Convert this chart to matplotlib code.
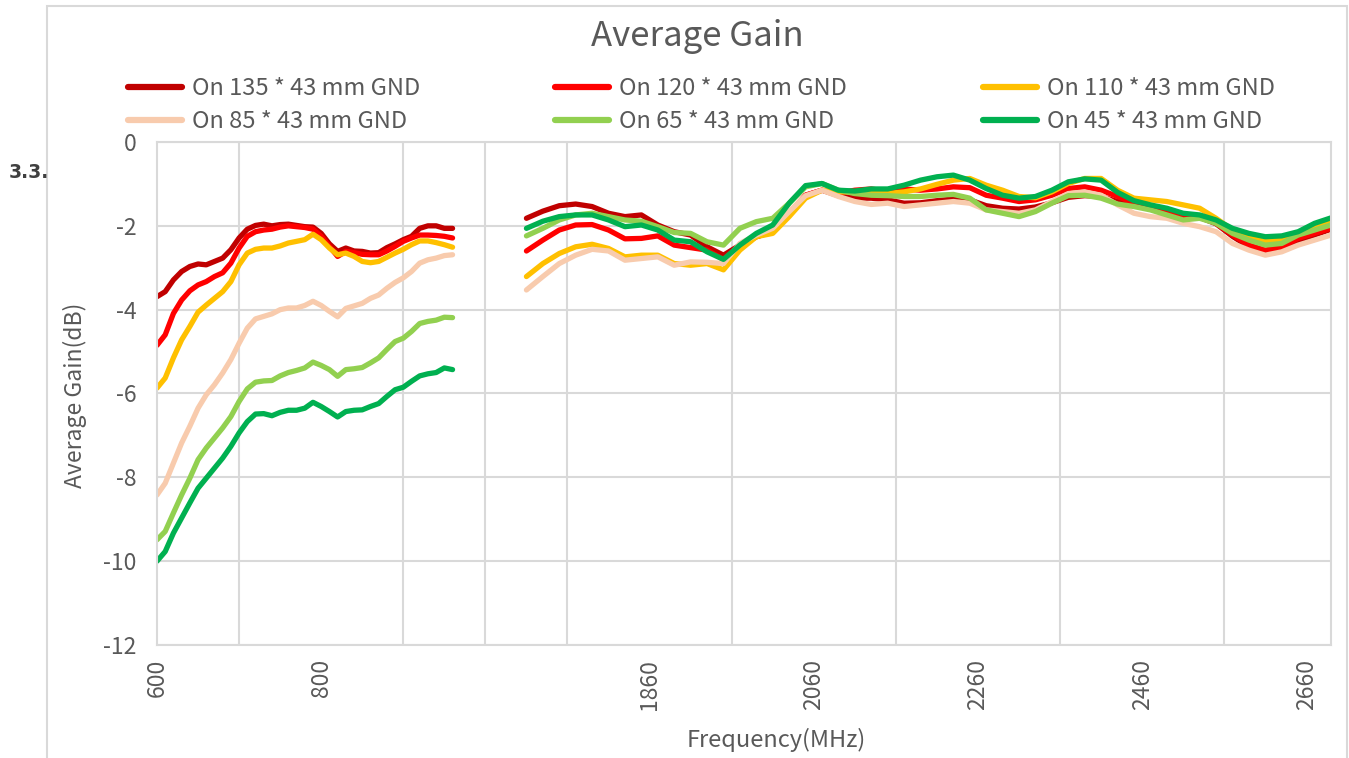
import numpy as np
import matplotlib
matplotlib.use("Agg")
import matplotlib.pyplot as plt
from matplotlib.patches import Rectangle

plt.rcParams['font.family'] = ['Noto Sans CJK SC', 'DejaVu Sans']

# ---------------- data ----------------
freq_low = np.arange(600, 961, 10)      # 600..960 MHz, step 10
freq_high = np.arange(1710, 2691, 20)   # 1710..2690 MHz, step 20

series_names = ["On 135 * 43 mm GND", "On 120 * 43 mm GND", "On 110 * 43 mm GND",
                "On 85 * 43 mm GND", "On 65 * 43 mm GND", "On 45 * 43 mm GND"]
series_colors = ["#C00000", "#FF0000", "#FFC000", "#F8CBAD", "#92D050", "#00B050"]

low_135 = [-3.69, -3.57, -3.29, -3.09, -2.97, -2.91, -2.93, -2.85, -2.77, -2.57,
           -2.29, -2.08, -1.99, -1.96, -2.00, -1.97, -1.96, -1.99, -2.02, -2.03,
           -2.18, -2.43, -2.61, -2.53, -2.60, -2.61, -2.65, -2.64, -2.52, -2.43,
           -2.33, -2.25, -2.06, -2.00, -2.00, -2.06, -2.06]
low_120 = [-4.85, -4.60, -4.09, -3.77, -3.55, -3.41, -3.33, -3.21, -3.12, -2.89,
           -2.53, -2.25, -2.14, -2.10, -2.08, -2.03, -2.00, -2.02, -2.04, -2.08,
           -2.25, -2.49, -2.73, -2.61, -2.64, -2.68, -2.69, -2.69, -2.60, -2.49,
           -2.37, -2.29, -2.22, -2.22, -2.23, -2.25, -2.29]
low_110 = [-5.87, -5.63, -5.15, -4.72, -4.40, -4.06, -3.89, -3.73, -3.57, -3.33,
           -2.93, -2.65, -2.56, -2.53, -2.53, -2.48, -2.41, -2.37, -2.33, -2.20,
           -2.33, -2.53, -2.69, -2.65, -2.73, -2.85, -2.88, -2.85, -2.75, -2.65,
           -2.56, -2.45, -2.36, -2.36, -2.40, -2.45, -2.51]
low_85 = [-8.42, -8.14, -7.66, -7.18, -6.78, -6.35, -6.03, -5.79, -5.51, -5.19,
          -4.80, -4.44, -4.22, -4.16, -4.10, -4.00, -3.96, -3.96, -3.90, -3.80,
          -3.90, -4.04, -4.17, -3.97, -3.91, -3.85, -3.73, -3.65, -3.49, -3.35,
          -3.24, -3.09, -2.89, -2.81, -2.77, -2.71, -2.69]
low_65 = [-9.49, -9.29, -8.85, -8.42, -8.02, -7.58, -7.30, -7.06, -6.82, -6.55,
          -6.19, -5.89, -5.73, -5.70, -5.69, -5.58, -5.50, -5.45, -5.39, -5.25,
          -5.33, -5.43, -5.59, -5.43, -5.41, -5.38, -5.27, -5.15, -4.95, -4.76,
          -4.68, -4.52, -4.33, -4.28, -4.25, -4.18, -4.19]
low_45 = [-10.00, -9.77, -9.33, -8.97, -8.61, -8.26, -8.02, -7.78, -7.54, -7.26,
          -6.94, -6.67, -6.49, -6.48, -6.53, -6.45, -6.40, -6.40, -6.35, -6.21,
          -6.31, -6.43, -6.56, -6.43, -6.40, -6.39, -6.31, -6.24, -6.07, -5.91,
          -5.85, -5.71, -5.58, -5.53, -5.50, -5.39, -5.43]

high_135 = [-1.82, -1.65, -1.52, -1.48, -1.54, -1.70, -1.78, -1.74, -1.98, -2.14,
            -2.22, -2.50, -2.70, -2.46, -2.26, -2.14, -1.74, -1.27, -1.15, -1.28,
            -1.34, -1.34, -1.38, -1.46, -1.45, -1.40, -1.36, -1.38, -1.52, -1.58,
            -1.60, -1.55, -1.45, -1.32, -1.28, -1.30, -1.42, -1.50, -1.60, -1.65,
            -1.76, -1.80, -1.95, -2.25, -2.50, -2.62, -2.55, -2.35, -2.22, -2.08]
high_120 = [-2.60, -2.34, -2.10, -1.98, -1.97, -2.10, -2.31, -2.30, -2.24, -2.46,
            -2.52, -2.58, -2.80, -2.46, -2.26, -2.14, -1.70, -1.27, -1.15, -1.22,
            -1.15, -1.12, -1.18, -1.12, -1.15, -1.12, -1.07, -1.09, -1.27, -1.34,
            -1.42, -1.38, -1.27, -1.11, -1.07, -1.15, -1.30, -1.46, -1.58, -1.62,
            -1.74, -1.78, -1.94, -2.22, -2.46, -2.58, -2.50, -2.30, -2.18, -2.06]
high_110 = [-3.21, -2.90, -2.66, -2.50, -2.44, -2.54, -2.74, -2.70, -2.70, -2.90,
            -2.94, -2.90, -3.05, -2.58, -2.26, -2.18, -1.78, -1.34, -1.15, -1.19,
            -1.19, -1.20, -1.23, -1.19, -1.12, -1.01, -0.91, -0.87, -1.03, -1.15,
            -1.30, -1.33, -1.19, -0.99, -0.87, -0.87, -1.15, -1.34, -1.38, -1.42,
            -1.50, -1.58, -1.82, -2.10, -2.26, -2.38, -2.34, -2.18, -2.02, -1.90]
high_85 = [-3.53, -3.21, -2.90, -2.70, -2.56, -2.60, -2.82, -2.78, -2.74, -2.94,
           -2.86, -2.87, -2.90, -2.42, -2.22, -2.06, -1.66, -1.28, -1.15, -1.30,
           -1.42, -1.49, -1.46, -1.54, -1.50, -1.46, -1.42, -1.46, -1.62, -1.66,
           -1.70, -1.62, -1.42, -1.23, -1.19, -1.27, -1.50, -1.70, -1.78, -1.82,
           -1.94, -2.02, -2.14, -2.42, -2.58, -2.70, -2.62, -2.46, -2.34, -2.22]
high_65 = [-2.24, -2.06, -1.86, -1.74, -1.70, -1.78, -1.86, -1.89, -2.02, -2.16,
           -2.18, -2.38, -2.46, -2.06, -1.90, -1.82, -1.46, -1.07, -0.99, -1.15,
           -1.23, -1.27, -1.28, -1.30, -1.30, -1.27, -1.25, -1.34, -1.62, -1.70,
           -1.78, -1.66, -1.46, -1.28, -1.27, -1.34, -1.48, -1.54, -1.62, -1.74,
           -1.86, -1.82, -1.94, -2.18, -2.34, -2.46, -2.42, -2.22, -2.10, -1.98]
high_45 = [-2.06, -1.89, -1.78, -1.74, -1.74, -1.86, -2.02, -1.98, -2.10, -2.34,
           -2.38, -2.62, -2.80, -2.46, -2.18, -1.98, -1.46, -1.04, -0.99, -1.15,
           -1.17, -1.12, -1.12, -1.03, -0.91, -0.83, -0.79, -0.91, -1.11, -1.27,
           -1.34, -1.30, -1.15, -0.95, -0.88, -0.91, -1.20, -1.40, -1.50, -1.58,
           -1.70, -1.74, -1.86, -2.06, -2.18, -2.26, -2.24, -2.14, -1.94, -1.81]

low_data = [low_135, low_120, low_110, low_85, low_65, low_45]
high_data = [high_135, high_120, high_110, high_85, high_65, high_45]

tick_positions = [0, 20, 60, 80, 100, 120, 140]
tick_labels = ["600", "800", "1860", "2060", "2260", "2460", "2660"]

# category index for each frequency (Excel category axis with 8 blank categories)
def cat_index(f):
    f = np.asarray(f, dtype=float)
    return np.where(f <= 960, (f - 600) / 10.0, 45 + (f - 1710) / 10.0)

# ---------------- figure ----------------
W, H = 1349, 758
fig = plt.figure(figsize=(W / 100, H / 100), dpi=100)
fig.patch.set_facecolor("white")

# document text behind chart + chart frame
fig.text(9 / W, 1 - 172 / H, "3.3.", fontsize=13.5, fontweight="bold",
         color="#404040", va="center", ha="left", family="DejaVu Sans")
fig.patches.append(Rectangle((47 / W, -0.05), (1347 - 47) / W, 1.05 - 6 / H,
                             transform=fig.transFigure, facecolor="white",
                             edgecolor="#D9D9D9", linewidth=1.5, zorder=0.5))

ax = fig.add_axes([157 / W, 1 - 645 / H, (1331 - 157) / W, (645 - 142) / H])
ax.set_facecolor("white")
ax.set_zorder(2)

gray = "#595959"
grid_c = "#D9D9D9"

lines = []
for name, col, lo, hi in zip(series_names, series_colors, low_data, high_data):
    l, = ax.plot(cat_index(freq_low), lo, color=col, lw=3.8, solid_capstyle="round",
                 solid_joinstyle="round", label=name)
    ax.plot(cat_index(freq_high), hi, color=col, lw=3.8, solid_capstyle="round",
            solid_joinstyle="round")
    lines.append(l)

ax.set_xlim(0, 143)
ax.set_ylim(-12, 0)
yt = np.arange(-12, 0.1, 2)
ax.set_yticks(yt)
ax.set_yticklabels([f"{int(v)}" for v in yt])
ax.set_xticks(tick_positions)
ax.set_xticklabels(tick_labels, rotation=90)
ax.set_xticks(np.arange(0, 141, 10), minor=True)
ax.grid(True, which="minor", axis="x", color=grid_c, lw=1.5)
ax.grid(True, which="major", axis="y", color=grid_c, lw=1.5)
ax.set_axisbelow(True)
ax.tick_params(axis="both", which="both", length=0, colors=gray, labelsize=16.5)
ax.tick_params(axis="y", pad=15)
ax.tick_params(axis="x", pad=10)
for s in ax.spines.values():
    s.set_color(grid_c)
    s.set_linewidth(1.5)

fig.text(75 / W, 1 - 395 / H, "Average Gain(dB)", fontsize=16.5, color=gray,
         ha="center", va="center", rotation=90)
fig.text(776 / W, 1 - 740 / H, "Frequency(MHz)", fontsize=17, color=gray,
         ha="center", va="center")
fig.text(697 / W, 1 - 36 / H, "Average Gain", fontsize=25, color=gray,
         ha="center", va="center")

# legend: three columns placed like the reference
col_x = [128, 555, 983]
for c in range(3):
    hs = [lines[c], lines[c + 3]]
    leg = fig.legend(hs, [h.get_label() for h in hs], loc="upper left",
                     bbox_to_anchor=(col_x[c] / W, 1 - 77 / H), frameon=False,
                     fontsize=17, handlelength=2.3, handletextpad=0.42,
                     labelspacing=0.42, borderaxespad=0, borderpad=0,
                     labelcolor=gray)
    for lh in leg.get_lines():
        lh.set_linewidth(4.5)

fig.savefig("out.png", dpi=100, facecolor="white")
